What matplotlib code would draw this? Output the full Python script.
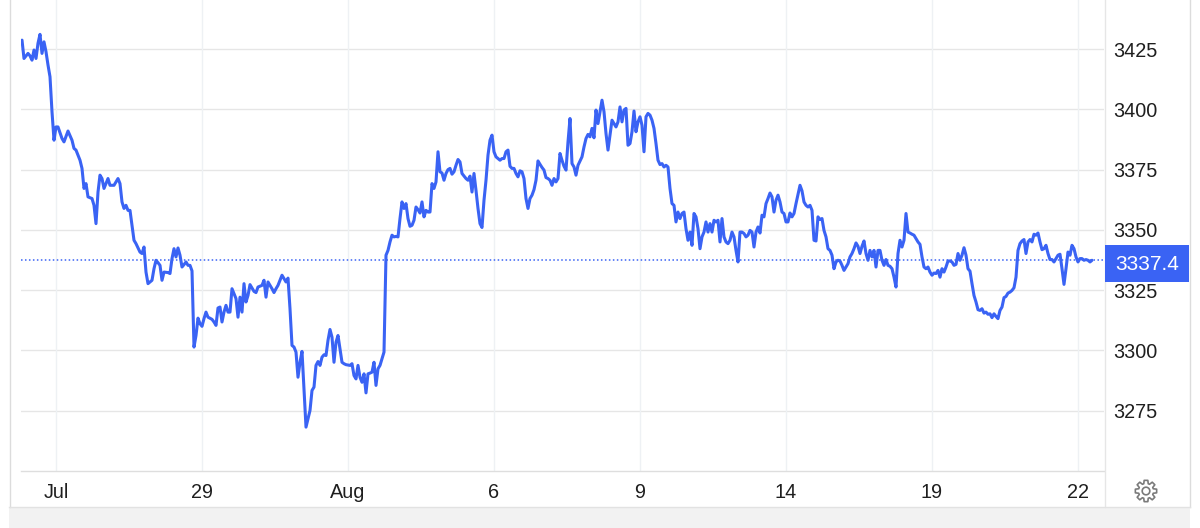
import matplotlib
matplotlib.use("Agg")
import matplotlib.pyplot as plt
from matplotlib.patches import Rectangle, Polygon
from matplotlib.lines import Line2D
import numpy as np

plt.rcParams['font.family'] = ['Liberation Sans', 'DejaVu Sans']

# ---------------- data (bar index, price) ----------------
bars = [
    0, 1, 3, 4, 5, 6, 7, 8, 9, 10, 11, 12, 13, 14, 15, 16, 17, 18, 20, 21, 23, 25, 26, 27, 29,
    30, 31, 32, 33, 35, 36, 37, 38, 39, 40, 41, 42, 43, 44, 46, 47, 48, 49, 50, 51, 52, 53, 54,
    56, 57, 59, 60, 61, 62, 63, 65, 66, 67, 68, 69, 70, 71, 73, 74, 75, 76, 77, 78, 79, 80, 81,
    82, 83, 84, 85, 86, 87, 88, 89, 90, 91, 92, 93, 95, 96, 97, 98, 99, 100, 101, 102, 103, 104,
    105, 106, 107, 108, 109, 110, 111, 112, 113, 114, 116, 117, 118, 120, 121, 122, 123, 124,
    125, 126, 127, 128, 130, 131, 132, 133, 134, 135, 136, 137, 138, 139, 140, 141, 142, 143,
    144, 145, 146, 147, 148, 149, 150, 151, 152, 153, 154, 155, 156, 157, 158, 159, 160, 161,
    162, 164, 165, 166, 167, 168, 169, 170, 171, 172, 173, 174, 175, 176, 177, 178, 179, 180,
    181, 182, 183, 184, 185, 186, 187, 188, 189, 190, 191, 192, 193, 194, 195, 196, 197, 198,
    199, 200, 201, 202, 203, 204, 205, 206, 207, 208, 209, 210, 211, 212, 213, 214, 215, 216,
    217, 218, 219, 220, 222, 223, 224, 225, 226, 227, 228, 229, 230, 231, 232, 233, 234, 235,
    236, 237, 238, 239, 240, 241, 242, 243, 244, 245, 246, 247, 248, 249, 250, 251, 252, 253,
    254, 255, 256, 257, 258, 259, 260, 261, 262, 263, 264, 265, 266, 267, 268, 269, 270, 271,
    272, 273, 274, 275, 276, 277, 278, 280, 281, 282, 283, 284, 285, 286, 287, 288, 289, 290,
    291, 292, 293, 294, 295, 296, 297, 298, 299, 300, 301, 302, 303, 304, 305, 306, 307, 308,
    309, 310, 311, 312, 313, 314, 315, 316, 317, 318, 319, 320, 321, 322, 323, 324, 325, 326,
    327, 328, 329, 330, 331, 332, 333, 334, 335, 336, 337, 338, 339, 340, 341, 342, 343, 344,
    345, 346, 347, 348, 349, 350, 351, 352, 353, 354, 355, 356, 357, 358, 359, 360, 361, 362,
    363, 364, 365, 366, 367, 368, 369, 370, 371, 372, 373, 374, 375, 376, 377, 378, 379, 380,
    381, 382, 383, 384, 385, 386, 387, 389, 390, 391, 392, 393, 394, 395, 396, 397, 398, 399,
    400, 401, 402, 403, 404, 405, 406, 407, 408, 409, 410, 411, 412, 413, 414, 415, 416, 417,
    418, 419, 420, 421, 422, 423, 424, 425, 426, 427, 428, 429, 430, 431, 432, 433, 434, 435,
    436, 437, 438, 439, 440, 441, 442, 443, 444, 445, 446, 447, 448, 449, 450, 451, 452, 453,
    454, 455, 456, 457, 458, 459, 460, 461, 462, 463, 464, 465, 466, 467, 468, 469, 470, 471,
    472, 473, 474, 475, 476, 477, 478, 479, 480, 481, 482, 483, 484, 485, 486, 487, 488, 489,
    490, 491, 492, 493, 494, 495, 496, 497, 498, 499, 500, 501, 502, 503, 504, 505, 506, 507,
    508, 509, 510, 511, 512, 513, 514, 515, 516, 517, 518, 519, 520, 521, 522, 523, 524, 525,
    526, 527, 528, 529, 530, 531, 532, 533, 534, 535,
]

prices = [
    3428.7, 3421.1, 3423.2, 3422.2, 3420.4, 3424.6, 3421.1, 3427.4, 3431.1, 3423.2, 3428.0,
    3423.9, 3418.4, 3413.5, 3399.0, 3387.2, 3392.7, 3392.7, 3387.9, 3386.5, 3391.0, 3387.2,
    3383.8, 3383.1, 3378.9, 3375.5, 3367.2, 3369.2, 3363.7, 3363.0, 3360.2, 3352.6, 3365.7,
    3372.7, 3371.3, 3367.2, 3369.2, 3371.3, 3368.5, 3368.5, 3369.9, 3371.3, 3369.2, 3361.6,
    3358.9, 3360.2, 3358.1, 3358.1, 3345.7, 3344.3, 3340.8, 3340.2, 3342.9, 3332.5, 3327.7,
    3329.1, 3333.9, 3337.4, 3336.4, 3335.3, 3329.1, 3332.5, 3332.3, 3331.9, 3338.1, 3342.2,
    3338.8, 3342.5, 3339.5, 3334.6, 3335.6, 3336.7, 3335.3, 3335.3, 3333.0, 3301.4, 3306.2,
    3313.4, 3311.1, 3310.0, 3313.2, 3315.9, 3313.8, 3312.9, 3311.8, 3310.4, 3317.6, 3318.0,
    3311.8, 3315.9, 3318.7, 3315.9, 3315.9, 3325.6, 3323.6, 3321.5, 3313.8, 3322.1, 3315.9,
    3327.7, 3320.1, 3322.8, 3327.3, 3324.5, 3324.0, 3326.3, 3327.0, 3329.1, 3322.1, 3328.4,
    3327.0, 3325.6, 3324.0, 3325.6, 3327.0, 3331.2, 3329.8, 3328.4, 3330.0, 3317.3, 3302.1,
    3301.4, 3299.3, 3288.9, 3295.1, 3299.6, 3284.1, 3268.2, 3271.6, 3275.1, 3283.4, 3284.8,
    3293.8, 3295.4, 3293.8, 3297.2, 3298.2, 3297.9, 3304.2, 3308.7, 3305.5, 3295.1, 3303.4,
    3306.2, 3300.7, 3295.1, 3294.5, 3294.1, 3293.8, 3294.5, 3289.6, 3288.2, 3293.8, 3288.9,
    3286.8, 3290.3, 3282.4, 3290.3, 3290.6, 3291.0, 3295.1, 3285.5, 3292.4, 3293.8, 3296.6,
    3299.3, 3339.5, 3341.5, 3345.0, 3347.8, 3347.1, 3347.3, 3347.1, 3354.7, 3361.6, 3358.9,
    3360.9, 3354.7, 3351.5, 3351.9, 3354.0, 3359.5, 3358.4, 3357.0, 3361.6, 3355.4, 3358.1,
    3357.4, 3357.4, 3369.2, 3367.2, 3369.9, 3382.4, 3374.1, 3373.6, 3370.6, 3373.4, 3375.0,
    3375.5, 3373.1, 3374.1, 3376.8, 3379.2, 3378.2, 3373.4, 3371.3, 3370.6, 3372.3, 3365.7,
    3373.4, 3366.4, 3358.9, 3352.6, 3351.0, 3362.3, 3370.6, 3381.0, 3387.2, 3389.3, 3382.4,
    3380.3, 3379.6, 3378.9, 3379.6, 3379.6, 3382.4, 3383.1, 3376.4, 3375.5, 3375.5, 3373.4,
    3372.0, 3374.5, 3374.1, 3371.3, 3363.0, 3358.9, 3363.0, 3364.4, 3366.7, 3370.6, 3378.6,
    3377.2, 3375.9, 3374.8, 3371.7, 3371.3, 3370.6, 3368.5, 3371.3, 3369.9, 3371.3, 3381.7,
    3378.9, 3376.4, 3374.8, 3386.5, 3396.2, 3377.5, 3376.1, 3372.7, 3376.8, 3380.3, 3384.4,
    3387.9, 3389.6, 3388.6, 3392.1, 3388.2, 3399.7, 3394.1, 3399.0, 3403.8, 3399.0, 3390.0,
    3383.1, 3389.3, 3395.5, 3394.1, 3392.7, 3394.8, 3401.0, 3394.8, 3399.7, 3400.4, 3385.1,
    3385.8, 3390.7, 3399.3, 3390.7, 3394.8, 3396.9, 3393.4, 3382.4, 3396.9, 3398.3, 3397.6,
    3395.5, 3392.1, 3385.8, 3378.9, 3377.1, 3377.5, 3376.1, 3376.8, 3376.1, 3367.2, 3360.9,
    3360.2, 3353.3, 3357.4, 3354.7, 3356.8, 3357.4, 3350.5, 3345.7, 3349.1, 3343.6, 3356.8,
    3355.4, 3350.5, 3342.2, 3347.1, 3349.1, 3353.3, 3349.1, 3352.6, 3349.1, 3354.0, 3353.3,
    3354.0, 3345.0, 3354.7, 3347.1, 3345.0, 3344.3, 3345.7, 3349.1, 3347.1, 3341.5, 3336.7,
    3349.1, 3349.1, 3348.5, 3347.1, 3347.8, 3349.8, 3349.1, 3342.9, 3349.1, 3351.2, 3348.7,
    3356.1, 3355.4, 3360.9, 3363.0, 3365.3, 3363.7, 3357.4, 3362.3, 3364.4, 3361.6, 3357.4,
    3356.8, 3353.3, 3353.3, 3357.0, 3355.4, 3356.8, 3360.9, 3368.5, 3366.2, 3361.6, 3360.2,
    3359.5, 3360.2, 3358.1, 3345.7, 3345.4, 3355.4, 3354.3, 3354.7, 3349.8, 3347.1, 3342.2,
    3341.5, 3339.5, 3333.9, 3336.7, 3337.4, 3337.1, 3335.3, 3333.2, 3334.6, 3336.0, 3338.8,
    3340.2, 3342.2, 3344.6, 3343.2, 3340.2, 3343.2, 3345.4, 3340.2, 3337.4, 3341.5, 3338.8,
    3341.5, 3334.6, 3341.5, 3341.5, 3337.4, 3335.3, 3337.7, 3335.3, 3334.9, 3333.9, 3330.4,
    3326.3, 3340.2, 3345.7, 3342.9, 3345.7, 3356.8, 3349.1, 3348.7, 3348.2, 3347.8, 3346.4,
    3345.0, 3344.0, 3338.8, 3334.6, 3333.9, 3334.6, 3332.5, 3331.2, 3332.1, 3331.9, 3333.2,
    3330.4, 3333.9, 3332.5, 3334.6, 3337.1, 3337.1, 3336.7, 3335.3, 3335.7, 3340.2, 3337.4,
    3339.5, 3342.6, 3339.5, 3333.9, 3332.9, 3327.7, 3322.8, 3320.1, 3316.9, 3316.6, 3317.3,
    3315.5, 3315.9, 3315.0, 3315.2, 3313.6, 3315.2, 3314.1, 3313.2, 3316.6, 3318.0, 3321.9,
    3322.4, 3323.8, 3324.2, 3324.9, 3326.0, 3330.4, 3341.5, 3344.3, 3345.4, 3346.0, 3340.2,
    3345.0, 3346.0, 3345.0, 3348.2, 3347.8, 3348.7, 3345.0, 3341.8, 3342.2, 3343.6, 3340.2,
    3337.7, 3337.7, 3336.7, 3338.1, 3339.5, 3339.9, 3333.9, 3327.4, 3333.9, 3340.8, 3339.5,
    3343.6, 3342.2, 3338.8, 3336.7, 3338.1, 3338.1, 3337.4, 3337.7, 3337.4, 3336.7, 3337.4,
]

last_price = 3337.4
last_label = "3337.4"

xtick_pos = [17, 90, 163, 236, 309, 382, 455, 528]
xtick_labels = ["Jul", "29", "Aug", "6", "9", "14", "19", "22"]

ytick_vals = [3275, 3300, 3325, 3350, 3375, 3400, 3425]
grid_levels = [3275, 3300, 3325, 3350, 3375, 3400, 3425]
y_min, y_max = 3250, 3445.35

# ---------------- styling ----------------
LINE = "#3a63f4"
W, H = 1200, 528

def fx(px):
    return px / W

def fy(py):
    return 1 - py / H

fig = plt.figure(figsize=(12, 5.28), dpi=100)
fig.patch.set_facecolor("white")

ax = fig.add_axes([fx(21), fy(471), fx(1104) - fx(21), 471 / H])
ax.set_xlim(-0.5, 541)
ax.set_ylim(y_min, y_max)
ax.set_facecolor("white")

for g in grid_levels:
    ax.axhline(g, color="#e6e6e6", lw=1.0, zorder=1)
for t in xtick_pos:
    ax.axvline(t, color="#eef1f4", lw=1.0, zorder=1)

ax.plot(bars, prices, color=LINE, lw=2.2, solid_joinstyle="round",
        solid_capstyle="round", zorder=3)
ax.axhline(last_price, color=LINE, lw=1.1, ls=(0, (1, 1.6)), zorder=2)

for s in ["top", "left", "right"]:
    ax.spines[s].set_visible(False)
ax.spines["bottom"].set_color("#dedede")
ax.spines["bottom"].set_linewidth(1.0)

ax.set_yticks(ytick_vals)
ax.set_yticklabels([str(v) for v in ytick_vals])
ax.yaxis.tick_right()
ax.tick_params(axis="y", length=0, pad=6.5, labelsize=14.3, labelcolor="#1f1f1f")
ax.set_xticks(xtick_pos)
ax.set_xticklabels(xtick_labels)
ax.tick_params(axis="x", length=0, pad=9, labelsize=14.3, labelcolor="#1f1f1f")

# frame lines
fig.add_artist(Line2D([fx(9.5), fx(9.5)], [fy(0), fy(507)], transform=fig.transFigure,
                      color="#dcdcdc", lw=1.0))
fig.add_artist(Line2D([fx(1189.5), fx(1189.5)], [fy(0), fy(507)], transform=fig.transFigure,
                      color="#dcdcdc", lw=1.0))
fig.add_artist(Line2D([fx(1104.5), fx(1104.5)], [fy(0), fy(507)], transform=fig.transFigure,
                      color="#e6e6e6", lw=1.0))
fig.add_artist(Rectangle((fx(9), fy(528)), fx(1190) - fx(9), 21 / H, transform=fig.transFigure,
                         facecolor="#f2f2f2", edgecolor="none"))
fig.add_artist(Line2D([fx(9), fx(1190)], [fy(507), fy(507)], transform=fig.transFigure,
                      color="#e2e2e2", lw=1.0))

# last price badge
fig.add_artist(Rectangle((fx(1105), fy(282)), fx(1189) - fx(1105), 37 / H,
                         transform=fig.transFigure, facecolor=LINE, edgecolor="none", zorder=5))
fig.text(fx(1147), fy(264), last_label, ha="center", va="center", color="white",
         fontsize=15, zorder=6)

# gear icon
cx, cy = 1146, 491
n_teeth = 8
pts = []
for i in range(n_teeth):
    a0 = 2 * np.pi * i / n_teeth
    for da, r in [(-0.30, 7.6), (-0.17, 10.8), (0.17, 10.8), (0.30, 7.6)]:
        a = a0 + da
        pts.append((fx(cx + r * np.cos(a)), fy(cy + r * np.sin(a))))
fig.add_artist(Polygon(pts, closed=True, transform=fig.transFigure, facecolor="none",
                       edgecolor="#7a7a7a", lw=1.2, joinstyle="round"))
hole = []
for k in range(40):
    a = 2 * np.pi * k / 40
    hole.append((fx(cx + 3.8 * np.cos(a)), fy(cy + 3.8 * np.sin(a))))
fig.add_artist(Polygon(hole, closed=True, transform=fig.transFigure, facecolor="none",
                       edgecolor="#7a7a7a", lw=1.2))

fig.savefig("out.png", dpi=100)
